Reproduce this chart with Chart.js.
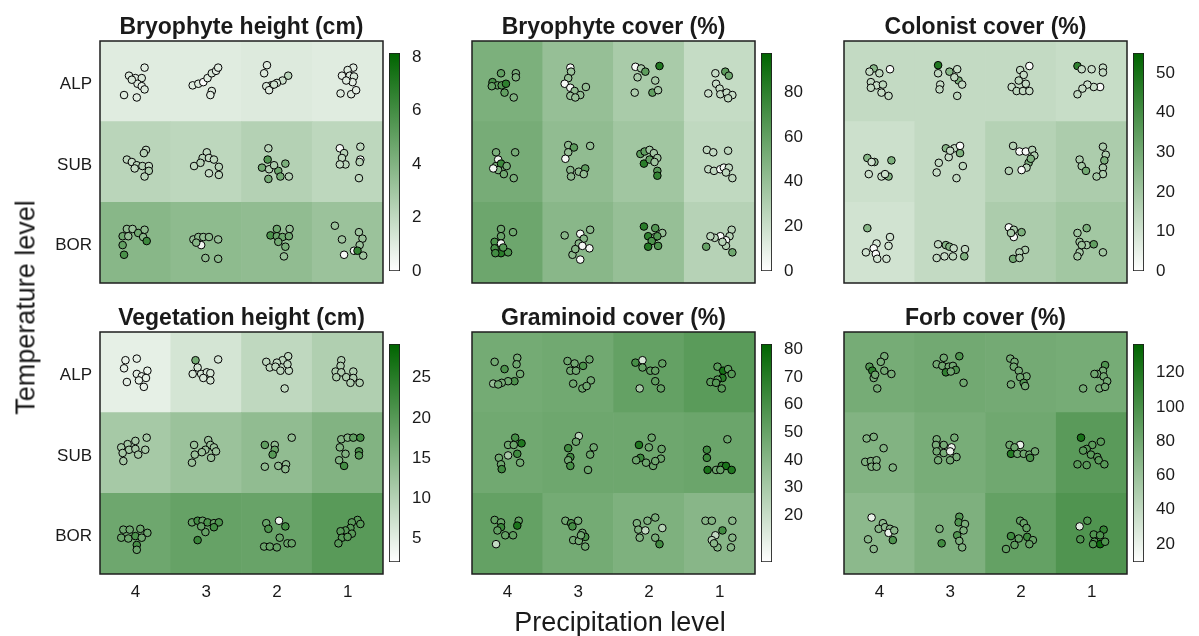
<!DOCTYPE html>
<html>
<head>
<meta charset="utf-8">
<script src="https://cdn.jsdelivr.net/npm/chart.js@4.4.0/dist/chart.umd.min.js"></script>
<style>
  body { margin: 0; width: 1199px; height: 636px; position: relative; overflow: hidden; background: #fff;
         font-family: "Liberation Sans", Arial, sans-serif; color: #1a1a1a; }
  canvas { position: absolute; }
  .panel-title { position: absolute; font-weight: bold; font-size: 23px; line-height: 23px; text-align: center; white-space: nowrap; }
  .axis-title { position: absolute; font-size: 27px; line-height: 27px; text-align: center; white-space: nowrap; }
</style>
</head>
<body>
<script>
// Factor levels
const precipitationLevels = ['4', '3', '2', '1'];   // x = 1..4
const temperatureLevels = ['BOR', 'SUB', 'ALP'];    // y = 1..3

// Cell values: rows ALP, SUB, BOR; columns precipitation 4, 3, 2, 1.
// Plot points per cell: [x jitter, y jitter, value].

// Bryophyte height (cm)
const bryoHeightRange = [0, 8.15];
const bryoHeightTicks = [0, 2, 4, 6, 8];
const bryoHeightCells = [[1.0, 1.0, 1.1, 1.0], [2.2, 2.1, 2.4, 2.1], [3.8, 3.6, 3.5, 3.2]];
const bryoHeightPlots = [
  [
    [[0.13,0.17,1.0],[-0.09,0.07,1.1],[0.00,0.04,0.9],[0.09,0.04,1.2],[0.03,-0.03,1.0],[0.09,-0.06,0.8],[0.13,-0.10,1.1],[-0.16,-0.17,1.0],[0.02,-0.20,0.9],[-0.05,0.02,1.2]],
    [[-0.19,-0.05,1.0],[-0.11,-0.03,1.1],[-0.04,-0.01,0.1],[0.02,0.04,1.0],[0.08,0.10,1.2],[0.14,0.13,0.9],[0.17,0.17,1.0],[0.08,-0.12,1.1],[0.06,-0.17,0.9]],
    [[-0.14,0.20,1.0],[-0.18,0.10,1.1],[0.16,0.07,2.2],[0.08,0.01,1.6],[0.00,-0.02,1.3],[-0.08,-0.05,1.8],[-0.15,-0.06,1.2],[-0.11,-0.11,1.0],[-0.04,-0.04,1.5]],
    [[0.08,0.17,1.0],[0.00,0.14,1.1],[-0.08,0.07,0.9],[0.03,0.07,1.0],[0.09,0.06,1.2],[0.07,-0.01,0.9],[-0.02,0.01,1.0],[-0.10,-0.15,1.1],[0.05,-0.16,1.0],[0.12,-0.11,0.9]]
  ],
  [
    [[0.15,0.15,2.0],[0.12,0.11,2.3],[-0.12,0.03,2.1],[-0.05,0.00,1.8],[0.02,-0.04,2.2],[0.10,-0.05,2.4],[0.19,-0.05,2.0],[0.19,-0.11,2.6],[0.13,-0.18,2.2],[-0.01,-0.08,1.9]],
    [[0.01,0.12,2.0],[-0.05,0.05,2.2],[0.04,0.05,1.9],[0.11,0.03,2.1],[-0.17,-0.05,2.0],[-0.08,-0.01,2.3],[0.18,-0.06,2.2],[0.04,-0.14,1.8],[0.18,-0.16,2.1]],
    [[-0.12,0.17,2.2],[-0.13,0.03,5.5],[-0.21,-0.07,4.5],[-0.11,-0.09,2.5],[0.02,-0.11,4.6],[0.12,-0.02,4.2],[0.17,-0.18,2.4],[0.05,-0.18,4.4],[-0.12,-0.21,4.3],[-0.04,-0.04,2.6]],
    [[0.18,0.19,2.0],[-0.11,0.17,0.3],[-0.05,0.11,2.2],[-0.08,0.05,2.0],[-0.03,-0.03,2.1],[-0.11,-0.03,1.9],[0.18,0.03,0.5],[0.17,0.00,2.3],[0.16,-0.20,2.0]]
  ],
  [
    [[-0.12,0.17,3.5],[-0.04,0.17,3.2],[0.04,0.12,4.5],[0.13,0.16,3.6],[0.11,0.07,3.8],[-0.18,0.08,4.6],[-0.18,-0.03,5.0],[-0.16,-0.15,5.8],[0.16,0.02,6.2],[-0.10,0.08,3.4]],
    [[-0.18,0.04,3.4],[-0.11,0.07,3.7],[-0.04,0.07,3.5],[0.04,0.07,3.6],[0.17,0.04,3.3],[-0.07,-0.03,0.4],[-0.01,-0.19,3.5],[0.17,-0.20,3.6],[-0.14,0.00,3.8]],
    [[0.00,0.17,4.6],[0.18,0.17,3.4],[-0.09,0.09,5.8],[0.00,0.08,4.8],[0.08,0.07,4.7],[0.17,0.08,4.5],[0.02,0.01,4.4],[0.12,-0.05,4.3],[0.10,-0.17,3.3]],
    [[-0.18,0.21,3.2],[-0.08,0.04,3.0],[0.16,0.13,3.1],[0.21,0.05,3.3],[0.17,-0.03,3.2],[0.09,-0.10,0.4],[-0.05,-0.15,0.3],[0.22,-0.16,3.0],[0.14,-0.10,6.5]]
  ]
];

// Bryophyte cover (%)
const bryoCoverRange = [0, 97.5];
const bryoCoverTicks = [0, 20, 40, 60, 80];
const bryoCoverCells = [[50, 40, 33, 22], [52, 42, 36, 24], [56, 45, 40, 28]];
const bryoCoverPlots = [
  [
    [[-0.09,0.10,60],[0.12,0.10,50],[0.12,0.05,48],[-0.21,-0.01,70],[-0.14,-0.05,62],[-0.08,-0.05,65],[-0.02,-0.03,80],[-0.04,-0.14,60],[0.09,-0.20,48],[-0.22,-0.06,58]],
    [[-0.11,0.17,3],[-0.10,0.12,38],[-0.14,0.04,40],[-0.19,-0.03,4],[-0.11,-0.08,5],[-0.05,-0.12,42],[0.11,-0.07,40],[-0.11,-0.18,38],[0.03,-0.17,41],[-0.04,-0.20,39]],
    [[-0.19,0.18,3],[-0.11,0.16,33],[-0.05,0.12,62],[0.15,0.19,85],[-0.16,0.05,32],[0.09,0.01,33],[-0.20,-0.14,31],[0.05,-0.14,60],[0.13,-0.11,34]],
    [[-0.06,0.10,22],[0.08,0.12,62],[0.13,0.07,55],[-0.05,-0.03,21],[0.00,-0.09,22],[-0.16,-0.15,20],[0.01,-0.16,23],[0.10,-0.14,22],[0.18,-0.17,21],[0.12,-0.21,24]]
  ],
  [
    [[-0.16,0.12,50],[0.11,0.12,52],[-0.13,0.03,6],[-0.16,-0.05,50],[-0.09,-0.02,75],[-0.01,-0.05,52],[-0.13,-0.10,48],[-0.05,-0.15,53],[0.09,-0.20,50],[-0.20,-0.08,5]],
    [[-0.14,0.21,42],[-0.06,0.18,62],[0.17,0.20,41],[-0.14,0.12,40],[-0.18,0.04,4],[-0.11,-0.10,44],[-0.10,-0.18,43],[0.01,-0.12,42],[0.10,-0.08,62],[0.08,-0.15,40]],
    [[-0.12,0.10,62],[-0.06,0.13,60],[0.01,0.15,36],[0.07,0.11,35],[0.12,0.05,37],[-0.07,-0.02,82],[0.01,0.03,60],[0.08,0.00,36],[0.12,-0.11,64],[0.12,-0.17,78]],
    [[-0.18,0.15,24],[-0.09,0.12,23],[0.12,0.14,25],[-0.16,-0.09,22],[-0.08,-0.11,24],[0.01,-0.09,3],[0.06,-0.07,4],[0.13,-0.07,23],[0.18,-0.20,25],[0.09,-0.13,24]]
  ],
  [
    [[-0.09,0.17,56],[0.08,0.13,55],[-0.09,0.08,57],[-0.18,0.01,68],[-0.09,-0.01,5],[-0.18,-0.07,70],[-0.09,-0.13,82],[0.01,-0.12,68],[-0.17,-0.13,72],[-0.06,-0.06,65]],
    [[-0.19,0.09,45],[0.03,0.11,4],[0.17,0.16,44],[0.08,0.05,46],[0.01,-0.01,45],[0.16,-0.07,5],[0.06,-0.04,4],[-0.08,-0.15,44],[0.03,-0.21,3],[-0.04,-0.08,46]],
    [[-0.07,0.20,82],[0.09,0.18,65],[0.19,0.12,40],[-0.01,0.08,80],[0.09,0.07,42],[0.04,0.02,68],[0.12,0.08,66],[-0.01,-0.05,84],[0.13,-0.04,68]],
    [[0.17,0.16,28],[0.14,0.08,27],[0.09,0.03,4],[0.01,0.08,3],[-0.07,0.06,28],[-0.13,0.08,26],[0.09,-0.04,29],[0.18,-0.12,55],[-0.19,-0.05,58],[0.04,0.01,27]]
  ]
];

// Colonist cover (%)
const colonistRange = [0, 55.1];
const colonistTicks = [0, 10, 20, 30, 40, 50];
const colonistCells = [[13, 13, 13, 12], [11, 13, 16, 18], [10, 13, 18, 20]];
const colonistPlots = [
  [
    [[-0.08,0.16,26],[-0.14,0.12,13],[0.00,0.10,14],[0.15,0.15,1],[-0.12,-0.01,13],[-0.04,-0.05,12],[0.05,-0.04,14],[-0.12,-0.08,13],[0.03,-0.14,12],[0.13,-0.18,13]],
    [[-0.17,0.20,48],[-0.17,0.10,13],[-0.01,0.12,26],[0.10,0.15,12],[0.12,0.01,28],[0.17,-0.04,13],[-0.14,-0.04,12],[-0.15,-0.10,13],[0.10,-0.18,14],[0.06,0.05,13]],
    [[0.12,0.19,1],[-0.01,0.14,13],[0.04,0.08,12],[-0.03,0.01,14],[0.07,-0.03,13],[-0.13,-0.07,12],[-0.06,-0.12,14],[0.03,-0.12,13],[0.12,-0.12,12]],
    [[-0.20,0.19,45],[-0.14,0.15,12],[0.00,0.15,11],[0.16,0.17,12],[0.16,0.11,13],[0.12,-0.07,1],[0.03,-0.07,12],[-0.06,-0.04,11],[-0.13,-0.09,12],[-0.20,-0.16,13]]
  ],
  [
    [[-0.17,0.05,26],[-0.07,0.00,24],[0.17,0.02,28],[-0.15,-0.15,11],[0.03,-0.18,12],[0.13,-0.18,27],[0.08,-0.15,11],[-0.11,0.00,10]],
    [[-0.06,0.17,26],[0.06,0.17,13],[0.14,0.20,1],[0.14,0.11,28],[-0.02,0.06,12],[-0.16,-0.01,13],[0.18,-0.05,14],[-0.19,-0.13,12],[0.09,-0.20,13],[0.00,0.14,13]],
    [[-0.11,0.20,16],[-0.02,0.13,1],[0.07,0.13,2],[0.16,0.15,16],[0.19,0.08,17],[0.11,-0.01,28],[0.08,-0.07,15],[0.01,-0.10,1],[-0.17,-0.11,16],[0.14,0.04,27]],
    [[0.16,0.19,18],[0.20,0.09,17],[0.18,0.02,28],[-0.17,0.03,18],[-0.14,-0.05,19],[-0.08,-0.11,30],[0.16,-0.07,18],[0.16,-0.15,17],[0.07,-0.18,19]]
  ],
  [
    [[-0.17,0.18,26],[0.15,0.07,10],[-0.04,-0.01,9],[0.13,-0.04,10],[-0.08,-0.07,1],[-0.19,-0.12,10],[-0.05,-0.14,1],[-0.03,-0.20,9],[0.10,-0.20,10]],
    [[-0.17,-0.02,13],[-0.06,-0.03,26],[-0.01,-0.05,27],[0.05,-0.07,12],[-0.19,-0.19,13],[-0.08,-0.17,12],[0.04,-0.17,14],[0.21,-0.08,13],[0.20,-0.17,27]],
    [[-0.17,0.19,1],[-0.10,0.16,18],[0.01,0.13,28],[-0.10,0.07,1],[0.06,-0.09,18],[-0.02,-0.12,17],[-0.11,-0.20,30],[-0.02,-0.19,18],[-0.14,0.12,19]],
    [[-0.07,0.18,28],[-0.20,0.12,20],[-0.17,0.01,21],[-0.07,-0.03,19],[0.03,-0.02,34],[0.16,-0.12,20],[-0.17,-0.12,19],[-0.20,-0.17,20],[-0.14,-0.03,21]]
  ]
];

// Vegetation height (cm)
const vegHeightRange = [2.1, 29.2];
const vegHeightTicks = [5, 10, 15, 20, 25];
const vegHeightCells = [[4.8, 6.7, 8.9, 10.5], [11.6, 12.7, 13.8, 15.4], [17.5, 18.4, 18.1, 19.7]];
const vegHeightPlots = [
  [
    [[-0.14,0.15,4.5],[0.02,0.17,4.8],[-0.16,0.05,4.6],[0.02,-0.02,4.9],[0.09,-0.05,4.7],[0.17,0.02,4.5],[0.15,-0.07,4.8],[0.05,-0.10,4.6],[0.12,-0.18,4.7],[-0.12,-0.12,4.9]],
    [[-0.15,0.15,17],[0.17,0.16,6.5],[-0.12,0.06,6.8],[-0.19,-0.02,6.4],[-0.07,-0.02,6.7],[0.01,0.00,6.6],[0.06,-0.01,6.5],[0.06,-0.10,6.8],[-0.04,-0.07,6.4]],
    [[0.16,0.20,8.8],[0.08,0.15,9.0],[0.00,0.12,8.6],[-0.15,0.13,8.9],[-0.10,0.06,8.7],[-0.02,0.07,8.8],[0.05,0.02,9.0],[0.17,0.02,8.6],[0.11,-0.20,8.8],[0.15,0.10,8.9]],
    [[-0.09,0.15,10.4],[-0.10,0.08,10.6],[-0.17,0.01,10.5],[-0.09,0.00,10.3],[-0.16,-0.06,10.7],[-0.02,-0.06,10.5],[0.08,0.01,10.4],[0.08,-0.07,10.6],[0.17,-0.13,10.5],[0.04,-0.13,10.4]]
  ],
  [
    [[0.16,0.19,11.5],[0.00,0.15,11.3],[-0.11,0.11,11.6],[-0.20,0.07,11.4],[-0.09,0.04,11.7],[0.00,0.05,11.5],[0.14,0.04,11.3],[-0.18,0.00,11.6],[0.04,-0.02,11.4],[-0.17,-0.10,11.5]],
    [[-0.17,0.10,12.6],[0.03,0.16,12.4],[0.06,0.10,12.8],[0.11,0.07,12.5],[0.14,0.02,12.7],[-0.01,0.04,12.6],[-0.16,-0.02,12.4],[0.07,-0.06,12.8],[-0.20,-0.12,12.5],[-0.06,0.01,12.6]],
    [[-0.17,0.10,19],[-0.03,0.10,13.7],[-0.03,0.04,18],[-0.06,-0.02,20],[0.21,0.19,13.5],[-0.17,-0.17,13.8],[0.02,-0.16,13.6],[0.13,-0.14,13.7],[0.12,-0.20,13.9]],
    [[-0.09,0.17,15.3],[0.00,0.19,15.1],[0.08,0.19,19],[0.18,0.19,22],[-0.11,0.07,15.4],[-0.03,-0.01,15.2],[0.16,0.02,21],[-0.12,-0.09,15.3],[-0.05,-0.16,22],[0.16,-0.03,20]]
  ],
  [
    [[-0.17,0.05,17.5],[-0.08,0.05,17.3],[0.07,0.06,17.6],[0.17,0.01,17.4],[-0.20,-0.05,17.7],[-0.10,-0.06,17.5],[0.00,-0.03,21],[0.09,-0.05,17.3],[0.02,-0.14,21.5],[0.02,-0.20,17.6]],
    [[-0.20,0.14,18.4],[-0.12,0.16,22],[-0.05,0.16,18.3],[0.02,0.14,21],[0.11,0.13,18.5],[0.18,0.14,21],[-0.01,0.02,18.2],[0.11,0.08,22],[-0.12,-0.08,23],[-0.07,0.09,18.4]],
    [[-0.15,0.13,18],[0.03,0.16,4],[0.12,0.09,22],[-0.12,0.06,21],[0.04,-0.05,18.2],[-0.18,-0.16,17.8],[-0.10,-0.16,18],[0.00,-0.17,18.1],[0.15,-0.12,17.9],[0.21,-0.12,18]],
    [[0.14,0.17,19.7],[0.06,0.14,19.5],[0.18,0.12,19.8],[0.04,0.07,19.6],[-0.03,0.04,19.9],[-0.10,0.03,19.7],[0.06,0.00,19.5],[-0.08,-0.05,19.8],[-0.13,-0.12,19.6],[0.00,-0.04,19.7]]
  ]
];

// Graminoid cover (%)
const graminoidRange = [3, 82];
const graminoidTicks = [20, 30, 40, 50, 60, 70, 80];
const graminoidCells = [[46, 47, 51, 54], [47, 48, 48, 49], [51, 46, 43, 40]];
const graminoidPlots = [
  [
    [[-0.18,0.13,46],[-0.04,0.04,58],[0.14,0.18,45],[0.13,0.10,47],[0.18,-0.02,46],[0.10,-0.11,58],[0.01,-0.11,47],[-0.08,-0.13,45],[-0.20,-0.14,35],[-0.13,-0.15,46]],
    [[-0.15,0.14,47],[-0.05,0.11,46],[0.16,0.16,48],[-0.11,0.02,47],[-0.03,0.02,46],[0.07,0.08,58],[-0.07,-0.14,47],[0.06,-0.20,48],[0.18,-0.10,46],[0.12,-0.17,47]],
    [[-0.19,0.12,60],[-0.09,0.15,15],[-0.09,0.06,51],[0.02,0.02,52],[0.09,0.02,50],[0.19,0.11,51],[0.09,-0.11,52],[0.17,-0.20,50],[-0.13,-0.20,30]],
    [[-0.03,0.07,54],[0.05,0.02,75],[0.12,0.04,53],[0.17,-0.02,55],[0.04,-0.07,70],[-0.03,-0.09,54],[-0.13,-0.12,53],[-0.05,-0.13,55],[0.03,-0.20,54]]
  ],
  [
    [[0.11,0.19,60],[0.01,0.10,47],[0.09,0.10,48],[0.20,0.12,72],[0.14,-0.01,62],[0.01,-0.03,30],[-0.12,-0.06,47],[0.18,-0.12,46],[-0.09,-0.14,48],[-0.08,-0.20,62]],
    [[0.01,0.21,25],[-0.03,0.14,48],[0.22,0.07,47],[0.17,-0.02,49],[-0.14,0.06,62],[-0.11,-0.05,62],[-0.14,-0.09,47],[-0.11,-0.16,60],[0.14,-0.21,48]],
    [[0.04,0.19,48],[-0.14,0.10,72],[0.00,0.07,47],[0.18,0.05,49],[-0.12,-0.06,64],[-0.18,-0.09,48],[-0.04,-0.12,47],[0.06,-0.16,49],[0.17,-0.07,48],[0.09,-0.10,47]],
    [[0.11,0.17,49],[-0.18,0.04,62],[-0.18,-0.06,63],[-0.17,-0.21,74],[-0.05,-0.21,48],[0.03,-0.16,64],[0.09,-0.16,74],[0.17,-0.21,72],[0.01,-0.21,50]]
  ],
  [
    [[-0.18,0.17,51],[-0.09,0.14,50],[-0.09,0.08,64],[0.16,0.16,52],[0.14,0.10,74],[-0.14,0.04,51],[-0.03,-0.02,50],[0.08,-0.02,52],[-0.16,-0.13,22]],
    [[-0.18,0.16,46],[-0.10,0.13,58],[0.00,0.16,45],[-0.08,0.09,60],[0.06,0.01,47],[0.10,-0.04,60],[-0.07,-0.08,46],[0.01,-0.09,45],[0.10,-0.16,47],[0.04,-0.02,46]],
    [[-0.17,0.13,43],[-0.02,0.16,42],[0.09,0.20,44],[-0.15,0.05,43],[-0.05,0.04,22],[0.19,0.07,25],[-0.13,-0.05,42],[0.09,-0.05,44],[0.15,-0.13,62]],
    [[-0.20,0.16,40],[-0.11,0.16,41],[0.18,0.16,39],[0.04,0.04,62],[-0.06,-0.02,22],[0.18,-0.05,40],[-0.11,-0.08,25],[-0.03,-0.17,41],[0.16,-0.17,40],[-0.08,-0.12,39]]
  ]
];

// Forb cover (%)
const forbRange = [9.5, 136.7];
const forbTicks = [20, 40, 60, 80, 100, 120];
const forbCells = [[78, 80, 79, 78], [72, 77, 81, 92], [67, 74, 87, 97]];
const forbPlots = [
  [
    [[0.07,0.20,78],[0.02,0.13,77],[-0.14,0.07,95],[-0.10,0.02,115],[-0.08,-0.07,78],[0.07,0.02,79],[0.17,-0.02,77],[-0.03,-0.20,78],[-0.06,-0.03,80]],
    [[-0.09,0.18,80],[0.13,0.20,98],[-0.19,0.10,79],[-0.11,0.08,81],[-0.02,0.07,80],[0.04,0.08,79],[0.08,0.03,98],[-0.06,0.00,112],[0.01,0.01,80],[0.19,-0.13,81]],
    [[-0.15,0.17,79],[-0.09,0.13,78],[-0.10,0.07,80],[-0.03,0.02,79],[0.08,-0.05,78],[-0.01,-0.06,80],[0.04,-0.13,96],[0.06,-0.17,79],[-0.14,-0.15,78]],
    [[0.19,0.09,98],[0.16,0.02,78],[0.08,-0.02,77],[0.17,-0.05,79],[0.22,-0.11,78],[0.11,-0.20,77],[0.19,-0.18,79],[-0.12,-0.20,78],[0.04,-0.02,80]]
  ],
  [
    [[-0.18,0.18,72],[-0.08,0.20,73],[0.06,0.06,71],[-0.20,-0.11,72],[-0.12,-0.10,74],[-0.04,-0.09,71],[-0.11,-0.17,72],[-0.04,-0.17,73],[0.19,-0.18,72]],
    [[-0.19,0.17,77],[0.06,0.19,78],[-0.20,0.10,76],[-0.09,0.10,77],[0.02,0.07,20],[-0.19,0.02,78],[-0.09,0.00,77],[0.00,0.02,20],[0.09,-0.05,76],[-0.17,-0.09,77],[0.00,-0.09,78]],
    [[-0.16,0.10,81],[-0.01,0.10,20],[-0.09,0.07,82],[-0.14,-0.01,118],[-0.05,-0.01,80],[0.04,-0.01,81],[0.12,-0.02,82],[0.20,0.02,80],[0.13,-0.06,100]],
    [[-0.15,0.19,125],[0.13,0.14,92],[0.01,0.10,91],[-0.07,0.05,93],[-0.12,0.03,92],[-0.01,-0.02,91],[0.08,-0.05,93],[-0.20,-0.14,92],[-0.07,-0.15,91],[0.10,-0.09,92],[0.18,-0.14,93]]
  ],
  [
    [[-0.11,0.20,20],[0.05,0.13,67],[-0.01,0.06,68],[0.08,0.08,66],[0.15,0.06,67],[0.13,0.01,20],[0.21,0.04,68],[0.19,-0.08,98],[-0.16,-0.07,67],[-0.08,-0.19,66]],
    [[0.13,0.21,95],[0.12,0.14,96],[0.21,0.12,74],[-0.15,0.06,73],[0.19,0.04,75],[0.10,-0.02,96],[0.13,-0.09,74],[-0.12,-0.12,105],[0.17,-0.17,73]],
    [[-0.01,0.16,87],[0.04,0.13,86],[0.08,0.07,88],[-0.14,-0.03,105],[-0.03,-0.06,87],[0.09,-0.04,106],[0.17,-0.08,86],[-0.09,-0.14,88],[-0.21,-0.19,87],[0.12,-0.13,86]],
    [[-0.06,0.16,97],[-0.17,0.09,25],[0.17,0.05,110],[0.03,-0.01,96],[0.12,-0.02,98],[-0.16,-0.07,97],[0.04,-0.10,96],[0.12,-0.13,130],[0.02,-0.13,98],[0.19,-0.10,97]]
  ]
];

const panels = [
  { title: 'Bryophyte height (cm)', cells: bryoHeightCells, plots: bryoHeightPlots, range: bryoHeightRange, ticks: bryoHeightTicks },
  { title: 'Bryophyte cover (%)',   cells: bryoCoverCells,  plots: bryoCoverPlots,  range: bryoCoverRange,  ticks: bryoCoverTicks },
  { title: 'Colonist cover (%)',    cells: colonistCells,   plots: colonistPlots,   range: colonistRange,   ticks: colonistTicks },
  { title: 'Vegetation height (cm)', cells: vegHeightCells, plots: vegHeightPlots,  range: vegHeightRange,  ticks: vegHeightTicks },
  { title: 'Graminoid cover (%)',   cells: graminoidCells,  plots: graminoidPlots,  range: graminoidRange,  ticks: graminoidTicks },
  { title: 'Forb cover (%)',        cells: forbCells,       plots: forbPlots,       range: forbRange,       ticks: forbTicks }
];

// Page layout
const FONT = '"Liberation Sans", Arial, sans-serif';
const INK = '#1a1a1a';
const COL_LEFT = [100, 472, 844];
const ROW_TOP = [41, 332];
const PLOT_W = 283, PLOT_H = 242;
const Y_AXIS_W = 60, X_AXIS_H = 36, PAD = 10;
const BAR_GAP = 289, BAR_W = 11, BAR_INSET = 12, BAR_H = 218;
const TITLE_TOP = [15, 306];

// White -> dark green sequential palette
const LOW_RGB = [255, 255, 255], HIGH_RGB = [0, 100, 0];
function shade(v, range) {
  const f = Math.max(0, Math.min(1, (v - range[0]) / (range[1] - range[0])));
  const c = LOW_RGB.map((lo, i) => Math.round(lo + (HIGH_RGB[i] - lo) * f));
  return `rgb(${c[0]},${c[1]},${c[2]})`;
}

// Keep tick-label overhang from shrinking the plotting area
function fixY(width) {
  return s => { s.width = width; s.paddingTop = 0; s.paddingBottom = 0; };
}
function fixX(height) {
  return s => { s.height = height; s.paddingLeft = 0; s.paddingRight = 0; };
}

const panelFrame = {
  id: 'panelFrame',
  afterDraw(chart) {
    const a = chart.chartArea, c = chart.ctx;
    c.save();
    c.strokeStyle = '#1e1e1e';
    c.lineWidth = 1.5;
    c.strokeRect(a.left, a.top, a.right - a.left, a.bottom - a.top);
    c.restore();
  }
};

function addCanvas(left, top, w, h) {
  const cv = document.createElement('canvas');
  cv.width = w; cv.height = h;
  cv.style.left = left + 'px'; cv.style.top = top + 'px';
  cv.style.width = w + 'px'; cv.style.height = h + 'px';
  document.body.appendChild(cv);
  return cv;
}

function addText(cls, text, css) {
  const d = document.createElement('div');
  d.className = cls;
  d.textContent = text;
  Object.assign(d.style, css);
  document.body.appendChild(d);
  return d;
}

function drawPanel(p, i) {
  const col = i % 3, row = Math.floor(i / 3);
  const left = COL_LEFT[col], top = ROW_TOP[row];
  const cv = addCanvas(left - Y_AXIS_W, top - PAD, PLOT_W + Y_AXIS_W + PAD, PLOT_H + PAD + X_AXIS_H);

  const cells = [], points = [];
  p.cells.forEach((rowVals, r) => rowVals.forEach((v, c) => {
    const y = 3 - r, x = c + 1;
    cells.push({ x, y: [y - 0.5, y + 0.5], v });
    p.plots[r][c].forEach(([dx, dy, pv]) => points.push({ x: x + dx, y: y + dy, v: pv }));
  }));

  new Chart(cv, {
    type: 'scatter',
    data: {
      datasets: [
        { type: 'scatter', data: points, order: 0,
          pointRadius: 3.8, pointBorderWidth: 1, pointBorderColor: '#000',
          pointBackgroundColor: ctx => shade(ctx.raw.v, p.range) },
        { type: 'bar', data: cells, order: 1, grouped: false,
          barPercentage: 1, categoryPercentage: 1, borderWidth: 0,
          backgroundColor: ctx => shade(ctx.raw.v, p.range) }
      ]
    },
    options: {
      responsive: false, animation: false, events: [],
      layout: { padding: { top: PAD, right: PAD, left: 0, bottom: 0 } },
      plugins: { legend: { display: false }, tooltip: { enabled: false } },
      scales: {
        x: {
          type: 'linear', min: 0.5, max: 4.5, offset: false,
          grid: { display: false, drawTicks: false }, border: { display: false },
          afterBuildTicks: s => { s.ticks = [1, 2, 3, 4].map(value => ({ value })); },
          afterFit: fixX(X_AXIS_H),
          ticks: { display: row === 1, autoSkip: false, maxRotation: 0, padding: 8,
                   font: { family: FONT, size: 17 }, color: INK,
                   callback: v => precipitationLevels[v - 1] }
        },
        y: {
          type: 'linear', min: 0.5, max: 3.5,
          grid: { display: false, drawTicks: false }, border: { display: false },
          afterBuildTicks: s => { s.ticks = [1, 2, 3].map(value => ({ value })); },
          afterFit: fixY(Y_AXIS_W),
          ticks: { display: col === 0, autoSkip: false, padding: 8, labelOffset: 3,
                   font: { family: FONT, size: 17 }, color: INK,
                   callback: v => temperatureLevels[v - 1] }
        }
      }
    },
    plugins: [panelFrame]
  });

  // Colour key
  const barLeft = left + BAR_GAP, barTop = top + BAR_INSET;
  const kv = addCanvas(barLeft, barTop - 12, BAR_W + 50, BAR_H + 24);
  new Chart(kv, {
    type: 'bar',
    data: {
      labels: [''],
      datasets: [{
        data: [[p.range[0], p.range[1]]],
        barPercentage: 1, categoryPercentage: 1,
        borderColor: '#1e1e1e', borderWidth: 1.2, borderSkipped: false,
        backgroundColor: ctx => {
          const a = ctx.chart.chartArea;
          if (!a) return '#fff';
          const g = ctx.chart.ctx.createLinearGradient(0, a.bottom, 0, a.top);
          g.addColorStop(0, shade(p.range[0], p.range));
          g.addColorStop(1, shade(p.range[1], p.range));
          return g;
        }
      }]
    },
    options: {
      responsive: false, animation: false, events: [],
      layout: { padding: { top: 12, bottom: 12, left: 0, right: 0 } },
      plugins: { legend: { display: false }, tooltip: { enabled: false } },
      scales: {
        x: { display: false },
        y: {
          position: 'right', min: p.range[0], max: p.range[1],
          grid: { display: false, drawTicks: false }, border: { display: false },
          afterBuildTicks: s => { s.ticks = p.ticks.map(value => ({ value })); },
          afterFit: fixY(50),
          ticks: { padding: 12, font: { family: FONT, size: 17 }, color: INK }
        }
      }
    }
  });

  addText('panel-title', p.title, { left: left + 'px', width: PLOT_W + 'px', top: TITLE_TOP[row] + 'px' });
}

panels.forEach(drawPanel);

addText('axis-title', 'Precipitation level', { left: '420px', width: '400px', top: '609px' });
addText('axis-title', 'Temperature level', {
  left: (26 - 150) + 'px', width: '300px', top: (307 - 13.5) + 'px', transform: 'rotate(-90deg)'
});
</script>
</body>
</html>
